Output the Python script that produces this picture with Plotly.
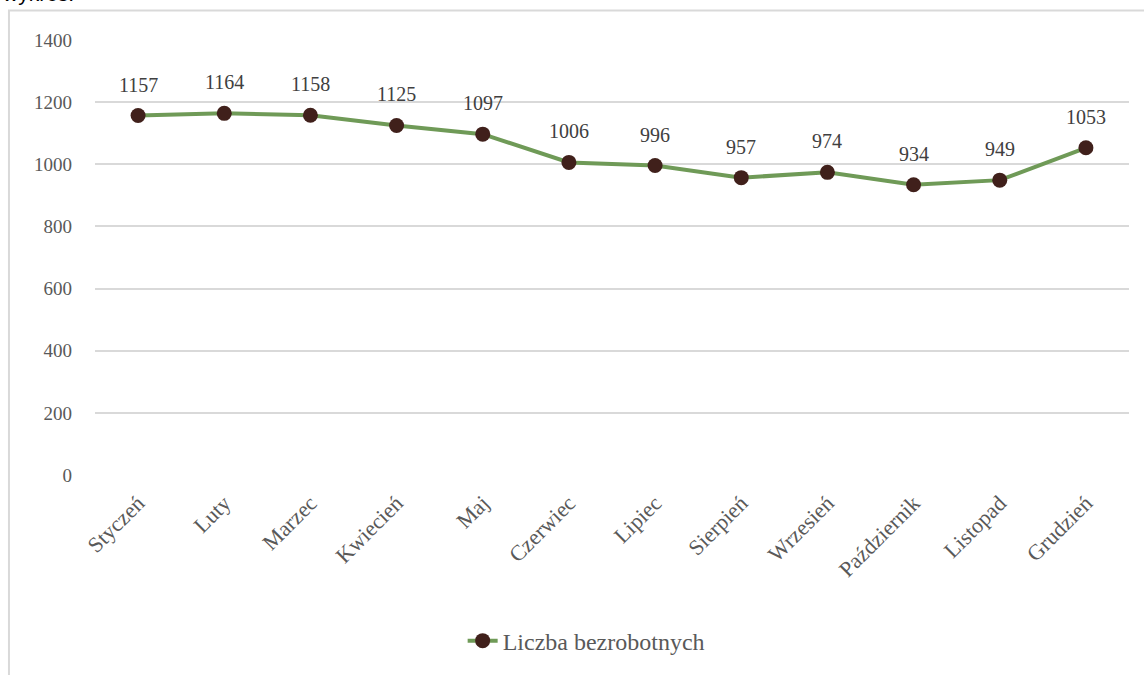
import plotly.graph_objects as go

months = ["Styczeń", "Luty", "Marzec", "Kwiecień", "Maj", "Czerwiec", "Lipiec",
          "Sierpień", "Wrzesień", "Październik", "Listopad", "Grudzień"]
unemployed = [1157, 1164, 1158, 1125, 1097, 1006, 996, 957, 974, 934, 949, 1053]
y_ticks = [0, 200, 400, 600, 800, 1000, 1200, 1400]

_FONT = "Liberation Serif"
_LINE = "#6f9a57"
_MARKER = "#40201b"

fig = go.Figure()
fig.add_trace(
    go.Scatter(
        x=months, y=unemployed, mode="lines+markers", name="Liczba bezrobotnych",
        line=dict(color=_LINE, width=4),
        marker=dict(color=_MARKER, size=15),
    )
)

for m, v in zip(months, unemployed):
    fig.add_annotation(x=m, y=v, text=str(v), showarrow=False, yanchor="bottom", yshift=18,
                       font=dict(family=_FONT, size=20, color="#404040"))

# chart frame and cut-off caption
fig.add_shape(type="rect", xref="paper", yref="paper", x0=-0.0832, x1=1.1, y0=-0.6, y1=1.068,
              line=dict(color="#d9d9d9", width=2), layer="below")
fig.add_annotation(xref="paper", yref="paper", x=-0.092, y=1.075, xanchor="left", yanchor="bottom",
                   text="wykres:", showarrow=False, font=dict(family="Liberation Sans", size=21, color="#000"))

fig.update_layout(
    template="plotly_white",
    width=1144, height=675,
    margin=dict(l=95, r=15, t=40, b=195),
    font=dict(family=_FONT, color="#595959"),
    xaxis=dict(range=[-0.5, len(months) - 0.5], tickangle=-45, tickfont=dict(size=22),
               showgrid=False, showline=False, ticklabelstandoff=10),
    yaxis=dict(range=[0, 1400], tickvals=y_ticks, tickfont=dict(size=19), gridcolor="#d9d9d9",
               gridwidth=2, zeroline=False, ticklabelstandoff=22),
    showlegend=True,
    legend=dict(orientation="h", x=0.475, xanchor="center", y=-0.33, yanchor="top",
                font=dict(size=24, color="#595959")),
    plot_bgcolor="white", paper_bgcolor="white",
)

fig.write_html("out.html", config={"displayModeBar": False},
               post_script="document.body.style.margin='0';")
